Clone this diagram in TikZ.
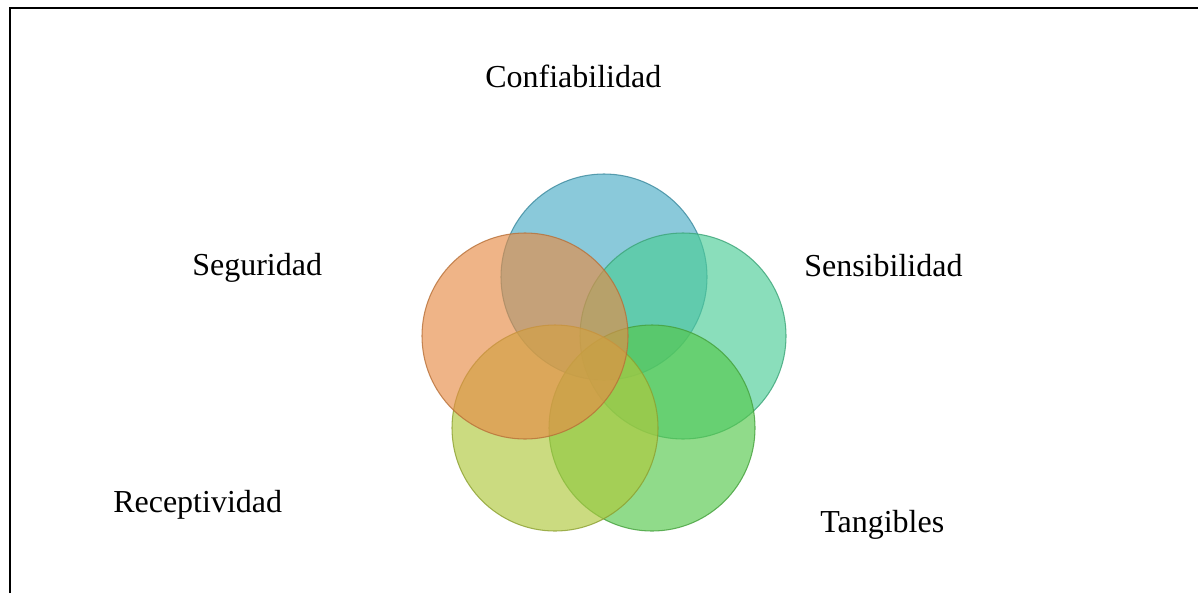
\documentclass[tikz,border=0pt]{standalone}
\usepackage{fontspec}
\setmainfont{Liberation Serif}
\definecolor{cBlue}{RGB}{75,172,198}
\definecolor{cTeal}{RGB}{75,205,150}
\definecolor{cGreen}{RGB}{85,200,75}
\definecolor{cYellow}{RGB}{175,200,60}
\definecolor{cOrange}{RGB}{230,140,70}
\tikzset{
  petal/.style={circle, minimum size=206*0.75pt, inner sep=0pt, fill opacity=0.65, draw opacity=0.8, line width=0.8pt},
  lbl/.style={anchor=base west, inner sep=0pt, font=\fontsize{24}{28}\selectfont}
}
\begin{document}
\begin{tikzpicture}[x=0.75pt,y=0.75pt,yscale=-1]
\useasboundingbox (0,0) rectangle (1198,593);

% Frame
\coordinate (fbl) at (10,593);
\coordinate (ftl) at (10,8);
\coordinate (ftr) at (1198,8);
\draw [line width=1.6pt] (fbl) -- (ftl) -- (ftr);

% Circles
\node (confi) [petal, fill=cBlue, draw=cBlue!80!black]     at (604,277) {};
\node (sensi) [petal, fill=cTeal, draw=cTeal!80!black]     at (683,336) {};
\node (tangi) [petal, fill=cGreen, draw=cGreen!80!black]   at (652,428) {};
\node (recep) [petal, fill=cYellow, draw=cYellow!80!black] at (555,428) {};
\node (segur) [petal, fill=cOrange, draw=cOrange!80!black] at (525,336) {};

% Labels
\node (lconfi) [lbl] at (485,87)  {Confiabilidad};
\node (lsegur) [lbl] at (192,275) {Seguridad};
\node (lsensi) [lbl] at (804,276) {Sensibilidad};
\node (lrecep) [lbl] at (113,512) {Receptividad};
\node (ltangi) [lbl] at (820,532) {Tangibles};

\end{tikzpicture}
\end{document}
